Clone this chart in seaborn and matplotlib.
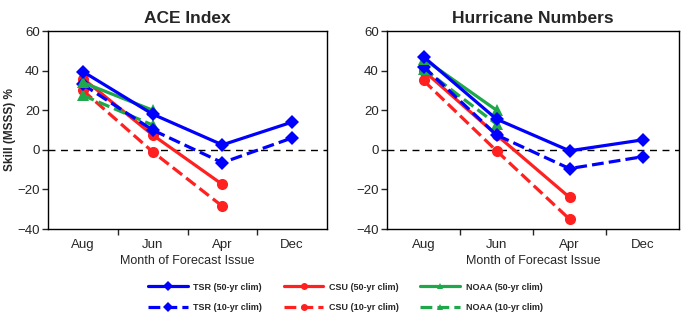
import matplotlib
matplotlib.use("Agg")
import matplotlib.pyplot as plt
from matplotlib.lines import Line2D
import seaborn as sns
import pandas as pd
import numpy as np

months = ["Aug", "Jun", "Apr", "Dec"]

# ACE Index
ace_tsr50 = [39.5, 18, 2.5, 14]
ace_tsr10 = [33, 10, -6.5, 6]
ace_csu50 = [36, 7.5, -17.5]
ace_csu10 = [30, -1, -28.5]
ace_noaa50 = [34, 20]
ace_noaa10 = [27.5, 12.5]

# Hurricane Numbers
hur_tsr50 = [47, 15.5, -0.5, 5]
hur_tsr10 = [42, 7.5, -9.5, -3.5]
hur_csu50 = [40, 7.5, -24]
hur_csu10 = [35, -0.5, -35]
hur_noaa50 = [46, 20]
hur_noaa10 = [41, 13]

labels = ["TSR (50-yr clim)", "TSR (10-yr clim)", "CSU (50-yr clim)",
          "CSU (10-yr clim)", "NOAA (50-yr clim)", "NOAA (10-yr clim)"]

BLUE = "#0000FF"
RED = "#FF2020"
GREEN = "#1EA84A"
styles = {
    "TSR (50-yr clim)": (BLUE, "D", "-"),
    "TSR (10-yr clim)": (BLUE, "D", "--"),
    "CSU (50-yr clim)": (RED, "o", "-"),
    "CSU (10-yr clim)": (RED, "o", "--"),
    "NOAA (50-yr clim)": (GREEN, "^", "-"),
    "NOAA (10-yr clim)": (GREEN, "^", "--"),
}

sns.set_style("white")
plt.rcParams['font.family'] = ['Liberation Sans', 'DejaVu Sans']

fig = plt.figure(figsize=(6.99, 3.24), dpi=100)
ax1 = fig.add_axes([48/699, 95/324, 279/699, 198/324])
ax2 = fig.add_axes([387/699, 95/324, 292/699, 198/324])

panels = [
    (ax1, "ACE Index", [ace_tsr50, ace_tsr10, ace_csu50, ace_csu10, ace_noaa50, ace_noaa10]),
    (ax2, "Hurricane Numbers", [hur_tsr50, hur_tsr10, hur_csu50, hur_csu10, hur_noaa50, hur_noaa10]),
]

draw_order = ["CSU (10-yr clim)", "CSU (50-yr clim)", "NOAA (10-yr clim)",
              "TSR (10-yr clim)", "NOAA (50-yr clim)", "TSR (50-yr clim)"]

for ax, title, series in panels:
    data = dict(zip(labels, series))
    ax.axhline(0, color="black", lw=1, ls=(0, (5, 4)), zorder=1)
    for lab in draw_order:
        vals = data[lab]
        df = pd.DataFrame({"x": np.arange(len(vals)), "y": vals})
        c, m, ls = styles[lab]
        ms = 7 if m == "D" else 8
        sns.lineplot(data=df, x="x", y="y", ax=ax, color=c, marker=m,
                     linestyle=ls, lw=2.3, markersize=ms, markeredgewidth=0,
                     zorder=3)
    ax.set_xlim(-0.5, 3.5)
    ax.set_ylim(-40, 60)
    ax.set_yticks([-40, -20, 0, 20, 40, 60])
    ax.set_xticks(range(4))
    ax.set_xticklabels(months)
    ax.set_xticks([0.5, 1.5, 2.5], minor=True)
    ax.tick_params(axis="x", which="major", length=0, labelsize=9.5, pad=7)
    ax.tick_params(axis="x", which="minor", length=4, width=1, direction="out", bottom=True)
    ax.tick_params(axis="y", length=4, width=1, direction="out", left=True, labelsize=9.5, pad=2)
    for s in ax.spines.values():
        s.set_color("black")
        s.set_linewidth(1)
    ax.set_title(title, fontsize=12.5, fontweight="bold", pad=6)
    ax.set_xlabel("Month of Forecast Issue", fontsize=9, labelpad=3)
    ax.set_ylabel("")

ax1.set_ylabel("Skill (MSSS) %", fontsize=8.5, fontweight="bold", labelpad=1)

handles = []
for lab in labels:
    c, m, ls = styles[lab]
    handles.append(Line2D([0], [0], color=c, lw=2.3, linestyle=ls, marker=m,
                          markersize=5, markeredgewidth=0))
leg = fig.legend(handles, labels, loc="center", bbox_to_anchor=(0.494, 0.082),
                 ncol=3, frameon=False, handlelength=4.4, columnspacing=2.4,
                 handletextpad=0.6, labelspacing=1.3,
                 prop={"size": 6.5, "weight": "bold"})

fig.savefig("out.png", dpi=100)
